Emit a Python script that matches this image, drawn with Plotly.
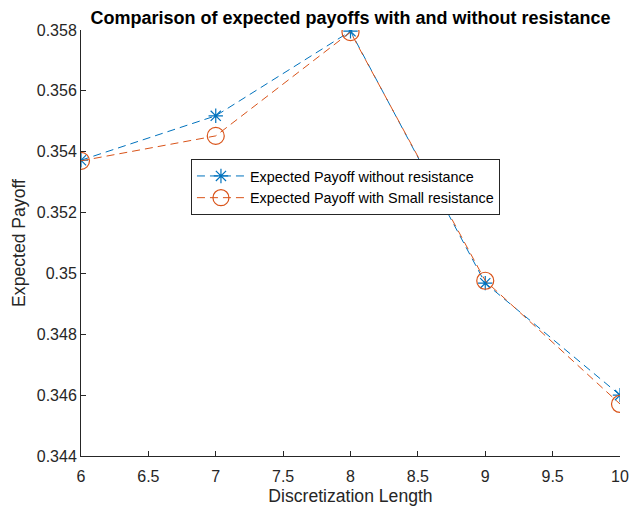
import plotly.graph_objects as go

x_vals = [6, 7, 8, 9, 10]
payoff_without = [0.35372, 0.35518, 0.35796, 0.34968, 0.34600]
payoff_small = [0.35370, 0.35452, 0.35793, 0.34976, 0.34571]
ytick_vals = [0.344, 0.346, 0.348, 0.35, 0.352, 0.354, 0.356, 0.358]
ytick_text = ["0.344", "0.346", "0.348", "0.35", "0.352", "0.354", "0.356", "0.358"]
xtick_vals = [6, 6.5, 7, 7.5, 8, 8.5, 9, 9.5, 10]
xtick_text = ["6", "6.5", "7", "7.5", "8", "8.5", "9", "9.5", "10"]

BLUE = "#0072BD"
ORANGE = "#D95319"
AX = "#262626"
FONT = "Liberation Sans, Arial, sans-serif"

fig = go.Figure()
fig.add_trace(go.Scatter(
    x=x_vals, y=payoff_without, mode="lines+markers",
    name="Expected Payoff without resistance",
    line=dict(color=BLUE, width=1, dash="8px,5px"),
    marker=dict(symbol="asterisk-open", size=12, color=BLUE, line=dict(color=BLUE, width=1.2)),
))
fig.add_trace(go.Scatter(
    x=x_vals, y=payoff_small, mode="lines+markers",
    name="Expected Payoff with Small resistance",
    line=dict(color=ORANGE, width=1, dash="8px,5px"),
    marker=dict(symbol="circle-open", size=17, color=ORANGE, line=dict(color=ORANGE, width=1.2)),
))

fig.update_layout(
    width=631, height=507,
    margin=dict(l=81, r=11, t=30, b=51),
    paper_bgcolor="white", plot_bgcolor="white",
    font=dict(family=FONT, color=AX, size=16),
    title=dict(text="<b>Comparison of expected payoffs with and without resistance</b>",
               x=0.5 + (81 - 11) / 2 / 631, xanchor="center", y=0.966, yanchor="middle",
               font=dict(size=18, color="black", family=FONT)),
    showlegend=True,
    hovermode=False,
    legend=dict(x=0.204, y=0.697, xanchor="left", yanchor="top",
                bgcolor="white", bordercolor=AX, borderwidth=1,
                font=dict(size=14.4, color="black", family=FONT),
                tracegroupgap=0, itemwidth=48),
    xaxis=dict(range=[6, 10], tickvals=xtick_vals, ticktext=xtick_text, automargin=False,
               showgrid=False, zeroline=False, showline=True, linecolor=AX, linewidth=1,
               ticks="inside", ticklen=5, tickcolor=AX, ticklabelstandoff=6,
               tickfont=dict(size=16, color=AX),
               title=dict(text="Discretization Length", font=dict(size=17.6, color=AX), standoff=5)),
    yaxis=dict(range=[0.344, 0.358], tickvals=ytick_vals, ticktext=ytick_text, automargin=False,
               showgrid=False, zeroline=False, showline=True, linecolor=AX, linewidth=1,
               ticks="inside", ticklen=5, tickcolor=AX,
               tickfont=dict(size=16, color=AX),
               title=dict(text="Expected Payoff", font=dict(size=17.6, color=AX), standoff=6)),
)

# remove the browser's default 8px body margin so the figure fills the window exactly
fig.write_html("out.html", config={"displayModeBar": False},
               post_script="document.body.style.margin='0';document.body.style.overflow='hidden';")
